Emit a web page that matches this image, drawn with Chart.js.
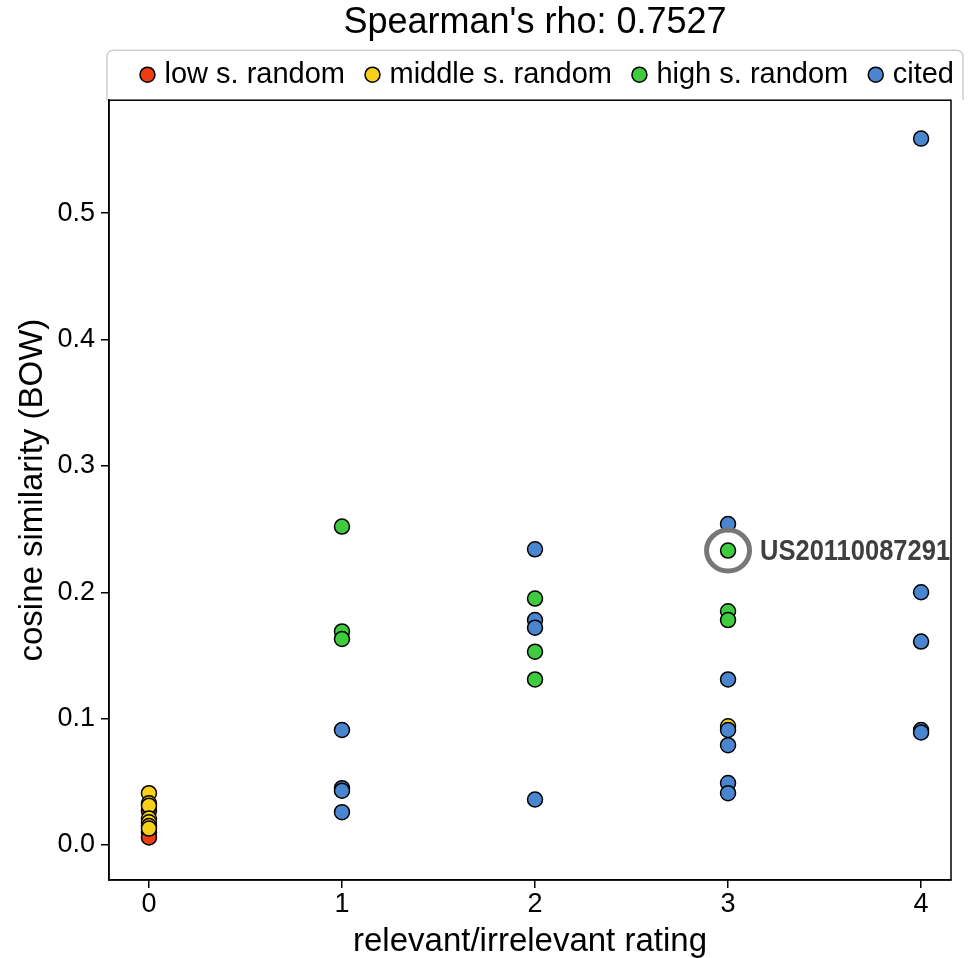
<!DOCTYPE html>
<html>
<head>
<meta charset="utf-8">
<script src="https://cdn.jsdelivr.net/npm/chart.js@4/dist/chart.umd.min.js"></script>
<style>
  html, body { margin: 0; padding: 0; background: #fff; }
  #wrap { width: 969px; height: 958px; }
</style>
</head>
<body>
<div id="wrap"><canvas id="scatter"></canvas></div>
<script>
// ratings (x) and cosine similarity (y) per group
const lowX = [0, 0, 0];
const lowY = [0.027, 0.010, 0.006];
const midX = [0, 0, 0, 0, 0, 0, 0, 3];
const midY = [0.041, 0.033, 0.031, 0.021, 0.018, 0.015, 0.013, 0.094];
const highX = [1, 1, 1, 2, 2, 2, 3, 3, 3];
const highY = [0.252, 0.169, 0.163, 0.195, 0.153, 0.131, 0.233, 0.185, 0.178];
const citedX = [1, 1, 1, 1, 2, 2, 2, 2, 3, 3, 3, 3, 3, 3, 4, 4, 4, 4, 4];
const citedY = [0.091, 0.045, 0.043, 0.026, 0.234, 0.178, 0.172, 0.036,
                0.254, 0.131, 0.091, 0.079, 0.049, 0.041, 0.559, 0.200, 0.161, 0.091, 0.089];

const groupNames = ["low s. random", "middle s. random", "high s. random", "cited"];
const xTicks = [0, 1, 2, 3, 4];
const yTicks = [0.0, 0.1, 0.2, 0.3, 0.4, 0.5];

const titleText = "Spearman's rho: 0.7527";
const noteLabel = "US20110087291";
const noteX = 3, noteY = 0.233;

const FONT = "'Liberation Sans', Arial, sans-serif";

function pts(xs, ys) {
    return xs.map((x, i) => ({ x: x, y: ys[i] }));
}

function ds(label, xs, ys, color, order) {
    return {
        label: label,
        data: pts(xs, ys),
        backgroundColor: color,
        borderColor: "#000",
        borderWidth: 1.5,
        pointRadius: 7.5,
        pointHoverRadius: 7.5,
        pointStyle: "circle",
        order: order
    };
}

// legend sits in a fixed 52px band and is nudged to line up with the boxed area;
// title is centred over the plot instead of the whole canvas
const legendFix = {
    id: "legendFix",
    beforeLayout(chart) {
        const lg = chart.legend;
        if (lg && !lg._patched) {
            const fit = lg.fit.bind(lg);
            lg.fit = function () { fit(); this.height = 52; };
            lg._patched = true;
        }
    },
    afterLayout(chart) {
        const lg = chart.legend;
        lg.top -= 13;
        lg.left += 28;
        lg.right += 28;
        const t = chart.titleBlock;
        const shift = (chart.chartArea.left + chart.chartArea.right) / 2 + 5 - (t.left + t.right) / 2;
        t.left += shift;
        t.right += shift;
    }
};

const frameAndNote = {
    id: "frameAndNote",
    beforeDraw(chart) {
        const ctx = chart.ctx;
        const a = chart.chartArea;
        ctx.save();
        const r = 6, bx = a.left - 2, by = a.top - 50, bw = chart.width - 6 - bx, bh = 50;
        ctx.strokeStyle = "#cfcfcf";
        ctx.lineWidth = 1.5;
        ctx.beginPath();
        ctx.moveTo(bx, by + bh);
        ctx.lineTo(bx, by + r);
        ctx.arcTo(bx, by, bx + r, by, r);
        ctx.lineTo(bx + bw - r, by);
        ctx.arcTo(bx + bw, by, bx + bw, by + r, r);
        ctx.lineTo(bx + bw, by + bh);
        ctx.stroke();
        ctx.restore();
    },
    afterDraw(chart) {
        const ctx = chart.ctx;
        const a = chart.chartArea;
        ctx.save();
        // plot frame
        ctx.strokeStyle = "#000";
        ctx.lineWidth = 1.5;
        ctx.strokeRect(a.left, a.top, a.right - a.left, a.bottom - a.top);
        // annotation
        const px = chart.scales.x.getPixelForValue(noteX);
        const py = chart.scales.y.getPixelForValue(noteY);
        ctx.strokeStyle = "#777";
        ctx.lineWidth = 5;
        ctx.beginPath();
        ctx.ellipse(px, py, 21.5, 20.5, 0, 0, Math.PI * 2);
        ctx.stroke();
        ctx.fillStyle = "#3f3f3f";
        ctx.font = "bold 30px " + FONT;
        ctx.textBaseline = "middle";
        ctx.translate(px + 32, py + 1);
        ctx.scale(0.85, 1);
        ctx.fillText(noteLabel, 0, 0);
        ctx.restore();
    }
};

new Chart(document.getElementById("scatter"), {
    type: "scatter",
    data: {
        datasets: [
            ds(groupNames[0], lowX, lowY, "#ee3d12", 4),
            ds(groupNames[1], midX, midY, "#f6d01a", 3),
            ds(groupNames[2], highX, highY, "#3ecb3e", 2),
            ds(groupNames[3], citedX, citedY, "#4a86d0", 1)
        ]
    },
    options: {
        responsive: true,
        maintainAspectRatio: false,
        animation: false,
        layout: { padding: { left: 4, right: 18, top: 0, bottom: 0 } },
        plugins: {
            tooltip: { enabled: false },
            title: {
                display: true,
                text: titleText,
                color: "#000",
                font: { family: FONT, size: 36, weight: "normal" },
                padding: { top: 1, bottom: 4 }
            },
            legend: {
                position: "top",
                align: "end",
                labels: {
                    usePointStyle: true,
                    boxHeight: 10.6,
                    boxWidth: 5,
                    padding: 25,
                    color: "#000",
                    font: { family: FONT, size: 29 },
                    sort: (a, b) => a.datasetIndex - b.datasetIndex
                }
            }
        },
        scales: {
            x: {
                type: "linear",
                min: -0.207,
                max: 4.155,
                afterFit: s => { s.height = 78; },
                afterBuildTicks: s => { s.ticks = xTicks.map(v => ({ value: v })); },
                ticks: {
                    color: "#000",
                    font: { family: FONT, size: 27 },
                    padding: 0,
                    callback: v => String(v)
                },
                grid: { display: true, drawOnChartArea: false, drawTicks: true, tickLength: 8, color: "#000", lineWidth: 1.5 },
                border: { display: true, color: "#000", width: 1.5 },
                title: {
                    display: true,
                    text: "relevant/irrelevant rating",
                    color: "#000",
                    font: { family: FONT, size: 33 },
                    padding: { top: 0, bottom: -4 }
                }
            },
            y: {
                type: "linear",
                min: -0.0277,
                max: 0.5894,
                afterFit: s => { s.width = 105; },
                afterBuildTicks: s => { s.ticks = yTicks.map(v => ({ value: v })); },
                ticks: {
                    color: "#000",
                    font: { family: FONT, size: 27 },
                    padding: 6,
                    callback: v => Number(v).toFixed(1)
                },
                grid: { display: true, drawOnChartArea: false, drawTicks: true, tickLength: 8, color: "#000", lineWidth: 1.5 },
                border: { display: true, color: "#000", width: 1.5 },
                title: {
                    display: true,
                    text: "cosine similarity (BOW)",
                    color: "#000",
                    font: { family: FONT, size: 33 },
                    padding: { top: 9, bottom: 0 }
                }
            }
        }
    },
    plugins: [legendFix, frameAndNote]
});
</script>
</body>
</html>
